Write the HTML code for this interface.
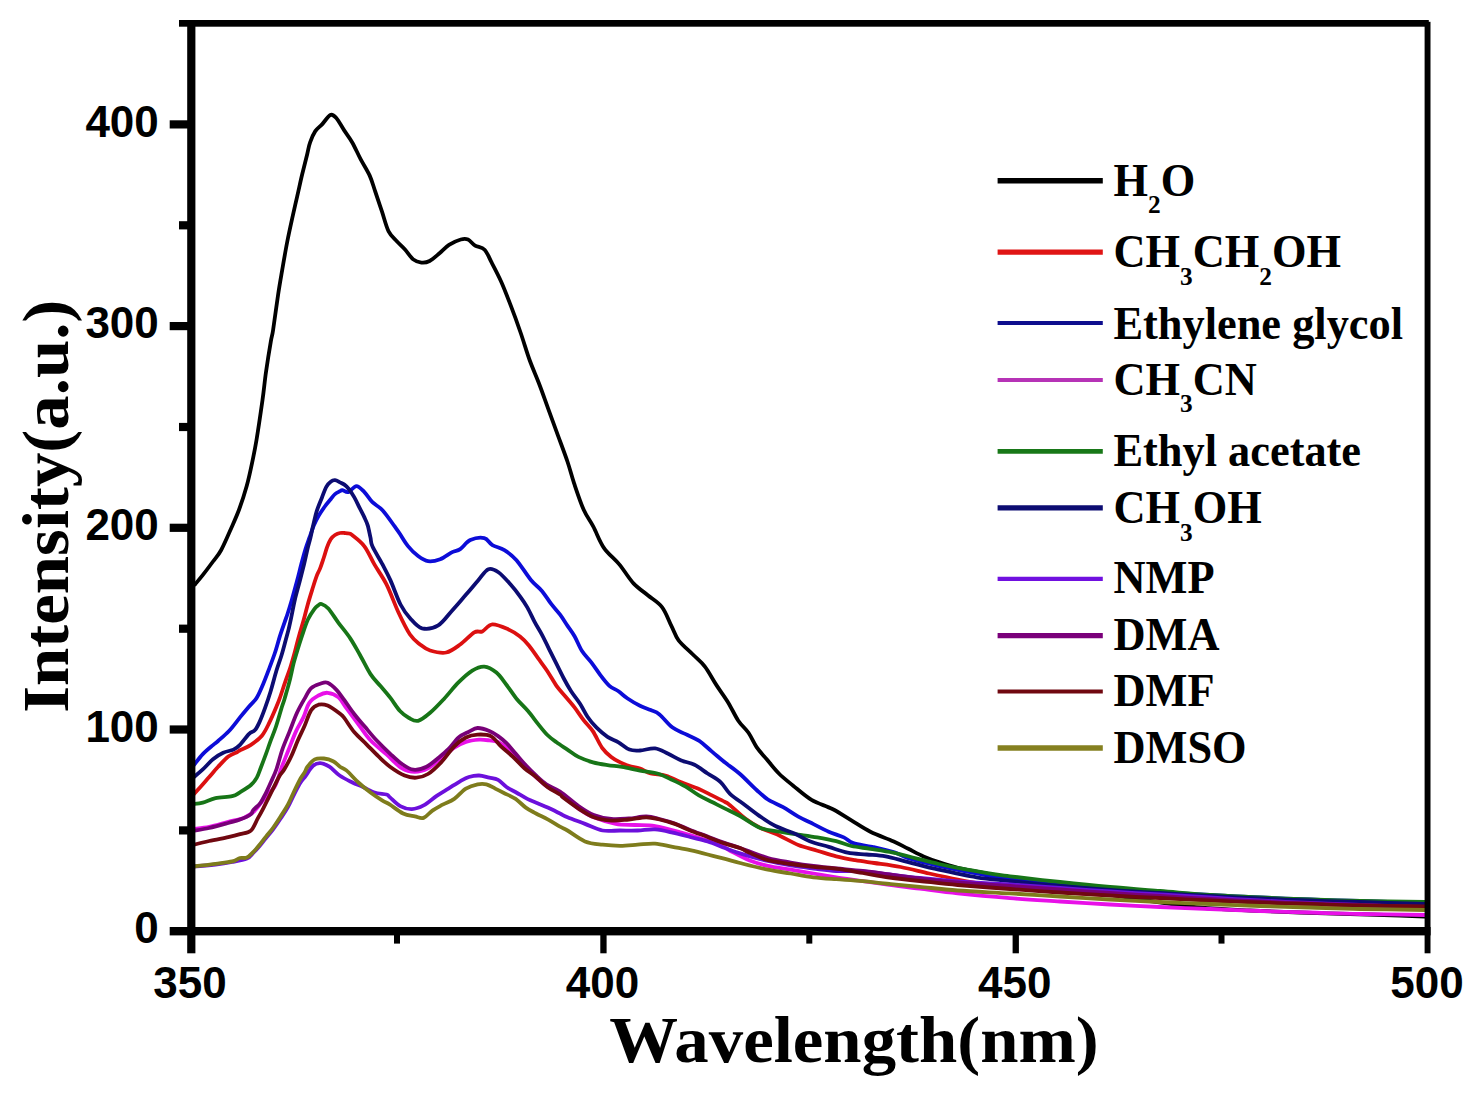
<!DOCTYPE html>
<html><head><meta charset="utf-8">
<style>
html,body{margin:0;padding:0;background:#fff;width:1476px;height:1096px;overflow:hidden}
svg{display:block}
.tl{font-family:"Liberation Sans",sans-serif;font-weight:bold;font-size:44px;fill:#000}
.ti{font-family:"Liberation Serif",serif;font-weight:bold;font-size:66px;fill:#000}
.lg{font-family:"Liberation Serif",serif;font-weight:bold;font-size:45.5px;fill:#000}
.sb{font-size:26px}
</style></head>
<body>
<svg width="1476" height="1096" viewBox="0 0 1476 1096">
<rect width="1476" height="1096" fill="#fff"/>
<!-- CURVES -->
<g id="curves" fill="none" stroke-width="3.8" stroke-linejoin="round" stroke-linecap="round">
<path stroke="#000000" d="M195.0,584.5 C196.3,582.9 200.1,578.4 203.1,574.6 C206.1,570.8 210.0,565.6 213.0,561.5 C216.0,557.4 218.2,555.5 221.2,550.0 C224.2,544.5 228.0,535.5 231.0,528.7 C234.0,521.9 236.7,516.1 239.3,509.0 C241.9,501.9 244.5,493.9 246.7,486.0 C248.9,478.1 250.8,469.0 252.4,461.3 C254.0,453.6 254.8,450.2 256.5,440.0 C258.2,429.8 260.9,411.3 262.5,400.0 C264.1,388.7 264.6,381.7 266.0,372.0 C267.4,362.3 269.6,348.6 270.8,341.6 C272.0,334.6 271.9,337.8 273.1,330.0 C274.3,322.2 276.6,304.6 278.1,294.7 C279.6,284.8 280.6,279.3 282.1,270.6 C283.6,261.9 285.4,251.2 287.1,242.5 C288.8,233.8 290.5,226.1 292.2,218.4 C293.9,210.7 295.5,203.7 297.2,196.3 C298.9,189.0 300.5,181.3 302.2,174.3 C303.9,167.3 305.9,159.6 307.2,154.2 C308.5,148.8 308.8,145.9 310.2,142.1 C311.6,138.2 313.3,134.1 315.3,131.1 C317.3,128.1 319.8,126.8 322.3,124.1 C324.8,121.4 328.0,116.0 330.3,115.0 C332.6,114.0 334.0,115.4 336.3,118.0 C338.6,120.6 341.5,126.3 344.2,130.4 C346.9,134.5 349.7,137.9 352.4,142.7 C355.1,147.5 357.7,153.6 360.6,159.1 C363.5,164.6 367.2,170.1 369.7,175.6 C372.2,181.1 373.3,186.0 375.4,192.0 C377.4,198.0 379.8,205.1 382.0,211.7 C384.2,218.3 386.1,226.5 388.6,231.4 C391.1,236.3 394.1,238.3 396.8,241.3 C399.5,244.3 402.3,246.5 405.0,249.5 C407.7,252.5 410.5,257.2 413.2,259.4 C415.9,261.6 418.7,262.3 421.4,262.6 C424.1,262.9 426.6,262.6 429.6,261.0 C432.6,259.4 436.3,255.9 439.5,253.2 C442.7,250.5 445.4,247.2 449.0,244.9 C452.6,242.6 457.6,240.4 460.8,239.5 C464.0,238.6 465.6,238.5 468.0,239.5 C470.4,240.5 472.3,243.9 475.1,245.6 C477.9,247.3 481.8,246.8 484.6,249.7 C487.4,252.5 488.9,257.4 491.7,262.7 C494.5,268.0 498.0,274.6 501.2,281.7 C504.4,288.8 507.5,297.1 510.7,305.4 C513.9,313.7 517.1,322.4 520.2,331.5 C523.4,340.6 526.5,351.3 529.6,360.0 C532.8,368.7 535.9,375.4 539.1,383.7 C542.3,392.0 545.4,401.1 548.6,409.8 C551.8,418.5 554.9,427.2 558.1,435.9 C561.3,444.6 564.9,454.0 567.6,462.0 C570.3,470.0 571.5,475.7 574.2,483.7 C576.9,491.7 580.5,502.7 583.7,509.8 C586.9,516.9 589.8,520.1 593.2,526.4 C596.6,532.7 599.5,541.5 603.9,547.8 C608.2,554.1 614.4,558.5 619.3,564.4 C624.2,570.3 628.8,578.3 633.5,583.4 C638.2,588.5 643.0,591.2 647.8,595.2 C652.5,599.2 658.0,602.0 662.0,607.1 C666.0,612.2 668.7,620.6 671.5,626.1 C674.3,631.6 675.0,635.6 678.6,640.3 C682.2,645.0 688.5,650.1 692.9,654.5 C697.2,658.9 700.8,661.2 704.7,666.4 C708.7,671.5 712.7,679.4 716.6,685.4 C720.5,691.4 724.5,696.5 728.1,702.4 C731.7,708.3 734.9,715.6 738.3,720.7 C741.7,725.8 745.5,728.4 748.5,732.8 C751.5,737.2 753.6,742.7 756.6,747.1 C759.6,751.5 763.0,754.9 766.7,759.3 C770.4,763.7 774.5,769.1 778.9,773.5 C783.3,777.9 787.8,781.3 793.2,785.7 C798.6,790.1 805.0,796.0 811.5,799.9 C818.0,803.8 825.8,805.6 832.4,809.0 C839.0,812.4 845.1,816.6 851.4,820.4 C857.7,824.2 863.4,828.2 870.4,831.7 C877.4,835.2 886.9,838.4 893.2,841.2 C899.5,844.1 903.2,846.3 908.3,848.8 C913.3,851.3 918.4,854.2 923.5,856.4 C928.6,858.6 933.0,860.2 938.7,862.1 C944.4,864.0 951.4,866.2 957.7,867.8 C964.0,869.4 970.3,870.3 976.6,871.6 C982.9,872.9 990.0,874.4 995.6,875.4 C1001.2,876.4 1000.9,876.1 1010.0,877.5 C1019.1,878.9 1035.0,881.4 1050.0,884.0 C1065.0,886.6 1083.3,890.2 1100.0,893.0 C1116.7,895.8 1133.3,898.6 1150.0,901.0 C1166.7,903.4 1183.3,905.9 1200.0,907.5 C1216.7,909.1 1233.3,909.7 1250.0,910.5 C1266.7,911.3 1283.3,911.9 1300.0,912.5 C1316.7,913.1 1333.3,913.5 1350.0,914.0 C1366.7,914.5 1387.5,915.1 1400.0,915.5 C1412.5,915.9 1420.8,916.3 1425.0,916.5"/>
<path stroke="#dc1010" d="M193.0,795.0 C194.2,793.7 197.5,790.3 200.2,787.3 C202.9,784.3 206.2,780.4 209.2,777.0 C212.2,773.6 214.9,770.2 218.1,766.8 C221.3,763.4 225.1,759.1 228.3,756.6 C231.5,754.1 235.4,753.0 237.3,752.0 C239.2,751.0 237.7,751.5 240.0,750.3 C242.3,749.1 247.2,747.2 250.9,744.8 C254.6,742.4 258.8,739.4 261.9,735.7 C264.9,732.1 266.8,727.8 269.2,722.9 C271.6,718.0 274.8,710.5 276.5,706.5 C278.2,702.5 278.1,702.9 279.6,698.7 C281.1,694.5 283.6,686.6 285.4,681.4 C287.2,676.2 288.8,672.1 290.3,667.5 C291.8,662.9 292.9,658.8 294.4,653.5 C295.8,648.2 297.4,641.7 299.0,636.0 C300.6,630.3 302.3,624.9 303.8,619.5 C305.3,614.1 306.4,609.2 307.9,603.9 C309.4,598.6 311.4,592.3 312.9,587.5 C314.4,582.7 315.8,578.4 317.0,575.2 C318.2,572.1 318.8,571.6 320.0,568.6 C321.2,565.6 322.8,560.5 324.0,557.0 C325.2,553.5 325.9,550.4 327.0,547.4 C328.1,544.4 329.4,541.4 330.7,539.3 C332.0,537.2 333.4,536.0 335.0,535.0 C336.6,534.0 338.4,533.3 340.0,533.0 C341.6,532.7 343.0,532.9 344.5,533.0 C346.0,533.1 347.7,533.1 349.0,533.5 C350.3,533.9 349.8,533.2 352.4,535.3 C355.0,537.4 360.7,541.4 364.4,546.3 C368.1,551.1 370.7,558.0 374.4,564.4 C378.1,570.8 382.5,576.4 386.5,584.4 C390.5,592.4 394.6,604.1 398.5,612.5 C402.4,620.9 406.4,629.2 410.0,634.5 C413.6,639.8 416.8,641.8 420.1,644.5 C423.5,647.2 425.8,649.2 430.1,650.5 C434.5,651.8 441.2,653.5 446.2,652.5 C451.2,651.5 455.5,647.9 460.2,644.5 C464.9,641.1 470.6,634.6 474.3,632.4 C478.0,630.2 479.3,632.7 482.3,631.4 C485.3,630.1 488.0,624.7 492.4,624.4 C496.8,624.1 503.8,627.4 508.4,629.4 C513.0,631.4 516.5,633.8 520.0,636.5 C523.5,639.2 526.1,642.1 529.1,645.7 C532.1,649.4 535.2,654.1 538.2,658.4 C541.2,662.6 544.4,666.6 547.4,671.2 C550.4,675.8 553.5,681.5 556.5,685.8 C559.5,690.0 562.6,693.1 565.6,696.7 C568.6,700.4 571.7,703.8 574.7,707.7 C577.7,711.7 580.8,716.5 583.8,720.4 C586.8,724.3 590.0,726.8 593.0,731.4 C596.0,736.0 599.1,743.5 602.1,747.8 C605.1,752.0 608.2,754.5 611.2,756.9 C614.2,759.3 617.3,760.9 620.3,762.4 C623.3,763.9 626.1,765.0 629.4,766.0 C632.7,767.0 636.5,767.2 640.0,768.5 C643.5,769.8 646.4,772.3 650.7,773.5 C655.0,774.7 660.9,774.2 666.0,775.7 C671.1,777.2 675.8,780.1 681.3,782.3 C686.8,784.5 693.8,786.7 698.9,788.9 C704.0,791.1 707.6,793.2 712.0,795.4 C716.4,797.6 722.1,800.4 725.1,802.0 C728.1,803.6 726.6,802.5 730.0,805.2 C733.4,808.0 740.1,814.7 745.2,818.5 C750.3,822.3 754.7,825.1 760.4,827.9 C766.1,830.7 773.0,832.6 779.3,835.5 C785.6,838.4 792.0,842.5 798.3,845.0 C804.6,847.5 811.0,848.8 817.3,850.7 C823.6,852.6 829.9,854.8 836.2,856.4 C842.5,858.0 848.9,859.1 855.2,860.2 C861.5,861.3 866.6,861.9 874.2,863.0 C881.8,864.1 891.5,865.2 900.7,867.0 C909.9,868.8 919.7,871.4 929.2,873.5 C938.7,875.6 948.2,877.7 957.7,879.5 C967.2,881.3 977.4,883.2 986.1,884.5 C994.8,885.8 997.7,886.2 1010.0,887.5 C1022.3,888.8 1043.3,890.8 1060.0,892.0 C1076.7,893.2 1093.3,894.1 1110.0,895.0 C1126.7,895.9 1143.3,896.7 1160.0,897.5 C1176.7,898.3 1193.3,899.2 1210.0,900.0 C1226.7,900.8 1243.3,901.3 1260.0,902.0 C1276.7,902.7 1293.3,903.4 1310.0,904.0 C1326.7,904.6 1340.8,905.0 1360.0,905.5 C1379.2,906.0 1414.2,906.8 1425.0,907.0"/>
<path stroke="#0c0cd8" d="M194.0,765.0 C195.5,763.2 199.6,757.4 202.8,754.1 C206.0,750.8 210.4,747.3 213.0,745.1 C215.6,742.9 215.4,743.4 218.1,741.0 C220.8,738.6 225.3,734.9 229.0,731.0 C232.7,727.1 236.7,721.5 240.0,717.4 C243.3,713.3 246.3,709.8 249.1,706.5 C251.9,703.2 254.3,701.7 256.6,697.9 C259.0,694.1 261.1,688.7 263.2,683.9 C265.3,679.1 267.1,674.2 269.0,669.1 C270.9,664.0 272.9,658.8 274.7,653.5 C276.5,648.2 278.0,642.3 279.6,637.1 C281.2,631.9 283.3,626.1 284.6,622.3 C285.9,618.4 286.3,617.7 287.5,614.0 C288.7,610.3 290.2,605.5 291.8,600.0 C293.4,594.5 295.4,586.9 297.0,581.0 C298.6,575.1 299.8,569.8 301.2,564.5 C302.6,559.2 304.1,553.5 305.5,549.0 C306.9,544.5 308.1,541.5 309.5,537.5 C310.9,533.5 312.5,528.6 314.0,525.0 C315.5,521.4 316.7,519.1 318.5,516.0 C320.3,512.9 322.8,509.3 324.8,506.5 C326.8,503.7 329.0,501.3 330.7,499.2 C332.4,497.1 333.4,495.4 335.0,494.1 C336.6,492.8 338.8,491.9 340.0,491.2 C341.2,490.5 340.9,490.0 342.3,490.1 C343.7,490.2 346.0,492.8 348.4,492.1 C350.8,491.4 353.7,486.1 356.4,486.1 C359.1,486.1 361.7,489.4 364.4,492.1 C367.1,494.8 369.4,499.2 372.4,502.2 C375.4,505.2 378.8,506.2 382.5,510.2 C386.2,514.2 391.6,522.2 394.5,526.2 C397.4,530.2 397.8,530.7 400.0,534.0 C402.2,537.3 405.0,542.4 408.0,546.1 C411.0,549.8 414.8,553.6 418.1,556.1 C421.5,558.6 424.4,560.7 428.1,561.2 C431.8,561.7 436.2,560.7 440.2,559.2 C444.2,557.7 448.9,553.8 452.2,552.1 C455.5,550.4 457.2,551.1 460.2,549.1 C463.2,547.1 466.3,541.9 470.3,540.1 C474.3,538.3 480.6,537.3 484.3,538.1 C488.0,538.9 489.0,543.1 492.4,545.1 C495.8,547.1 500.4,547.6 504.4,550.1 C508.4,552.6 512.1,555.2 516.5,560.2 C520.9,565.2 526.7,574.9 530.9,580.0 C535.1,585.1 538.5,586.9 541.9,590.9 C545.2,594.9 548.0,599.7 551.0,603.7 C554.0,607.7 557.4,611.1 560.1,614.7 C562.8,618.4 565.0,622.0 567.4,625.6 C569.8,629.2 572.3,632.2 574.7,636.5 C577.1,640.8 579.3,646.8 582.0,651.1 C584.7,655.4 588.1,658.2 591.1,662.1 C594.1,666.0 597.2,670.8 600.2,674.8 C603.2,678.8 606.4,683.0 609.4,685.8 C612.4,688.5 615.5,689.2 618.5,691.3 C621.5,693.4 624.0,696.1 627.6,698.5 C631.2,700.9 636.1,703.9 640.0,705.8 C643.9,707.7 647.5,708.7 650.7,710.1 C654.0,711.5 655.9,711.5 659.5,714.4 C663.1,717.3 668.2,724.3 672.6,727.6 C677.0,730.9 681.3,731.9 685.7,734.1 C690.1,736.3 694.5,737.8 698.9,740.7 C703.3,743.6 707.6,748.0 712.0,751.6 C716.4,755.2 720.4,758.9 725.1,762.6 C729.8,766.3 734.8,769.4 740.0,774.0 C745.2,778.6 752.0,785.8 756.6,790.0 C761.2,794.2 763.5,796.6 767.9,799.5 C772.3,802.4 778.0,804.2 783.1,807.1 C788.2,810.0 793.2,813.8 798.3,816.6 C803.4,819.4 808.4,821.6 813.5,824.1 C818.6,826.6 823.7,829.5 828.7,831.7 C833.8,833.9 839.7,835.5 843.8,837.4 C847.9,839.3 848.5,841.5 853.3,843.1 C858.0,844.7 865.3,845.3 872.3,846.9 C879.3,848.5 889.1,850.7 895.1,852.6 C901.1,854.5 901.0,856.1 908.3,858.3 C915.6,860.5 927.3,863.4 938.7,865.9 C950.1,868.4 964.7,871.3 976.6,873.5 C988.5,875.7 996.1,877.3 1010.0,879.2 C1023.9,881.1 1043.3,883.4 1060.0,885.0 C1076.7,886.6 1093.3,887.8 1110.0,889.0 C1126.7,890.2 1143.3,891.0 1160.0,892.0 C1176.7,893.0 1193.3,894.1 1210.0,895.0 C1226.7,895.9 1243.3,896.8 1260.0,897.5 C1276.7,898.2 1293.3,898.9 1310.0,899.5 C1326.7,900.1 1340.8,900.4 1360.0,901.0 C1379.2,901.6 1414.2,902.7 1425.0,903.0"/>
<path stroke="#e810e8" d="M193.0,829.0 C195.7,828.6 203.3,828.1 209.2,826.9 C215.1,825.7 222.6,823.3 228.3,821.8 C234.1,820.3 239.4,819.6 243.7,817.9 C248.0,816.2 250.5,814.7 253.9,811.5 C257.3,808.3 260.6,803.1 264.1,798.8 C267.6,794.5 272.2,791.0 275.1,785.8 C278.0,780.6 279.2,773.7 281.5,767.6 C283.8,761.5 286.4,755.4 288.8,749.3 C291.2,743.2 293.7,736.4 296.1,731.1 C298.5,725.8 301.2,722.1 303.4,717.4 C305.6,712.7 306.8,706.4 309.3,702.8 C311.8,699.1 315.4,697.2 318.5,695.5 C321.6,693.8 324.3,692.5 327.6,692.8 C330.9,693.1 335.4,694.8 338.5,697.4 C341.6,700.0 343.1,703.7 346.4,708.2 C349.7,712.7 354.4,718.9 358.4,724.3 C362.4,729.6 365.8,735.3 370.5,740.3 C375.2,745.3 381.3,749.8 386.5,754.4 C391.7,759.0 397.0,765.3 401.7,768.2 C406.4,771.1 410.4,771.8 414.8,771.8 C419.2,771.8 423.6,770.5 428.0,768.2 C432.4,765.9 436.7,761.4 441.1,758.0 C445.5,754.6 450.2,750.4 454.3,747.7 C458.4,745.0 461.8,743.2 465.9,741.9 C470.0,740.6 475.2,740.0 479.1,739.7 C483.0,739.5 486.1,740.0 489.3,740.4 C492.5,740.8 495.2,740.7 498.1,742.0 C501.0,743.3 503.9,745.5 506.8,748.0 C509.7,750.5 512.4,753.7 515.6,757.0 C518.8,760.3 522.4,764.7 525.8,768.0 C529.2,771.3 532.6,774.0 536.0,777.0 C539.4,780.0 542.3,783.2 546.3,786.0 C550.3,788.8 554.6,790.2 560.0,794.0 C565.4,797.8 572.9,804.7 578.5,808.6 C584.1,812.5 587.6,814.8 593.8,817.3 C600.0,819.8 608.8,822.6 615.7,823.9 C622.6,825.2 628.4,824.6 635.0,825.0 C641.6,825.4 647.4,824.8 655.1,826.1 C662.8,827.4 673.3,830.4 681.3,832.6 C689.3,834.8 696.8,837.1 703.2,839.2 C709.7,841.3 715.5,843.1 720.0,845.0 C724.5,846.9 725.2,848.2 730.0,850.7 C734.8,853.2 742.7,857.7 749.0,860.2 C755.3,862.7 760.9,864.3 767.9,865.9 C774.9,867.5 783.1,868.4 790.7,869.7 C798.3,871.0 805.9,872.2 813.5,873.5 C821.1,874.8 828.0,876.0 836.2,877.3 C844.4,878.6 853.9,879.8 862.8,881.1 C871.7,882.4 879.9,883.6 889.4,884.9 C898.9,886.2 908.3,887.3 919.7,888.7 C931.1,890.1 942.7,891.8 957.7,893.4 C972.8,895.0 993.0,896.8 1010.0,898.1 C1027.0,899.5 1043.3,900.4 1060.0,901.5 C1076.7,902.6 1093.3,903.6 1110.0,904.5 C1126.7,905.4 1143.3,906.2 1160.0,907.0 C1176.7,907.8 1193.3,908.3 1210.0,909.0 C1226.7,909.7 1243.3,910.4 1260.0,911.0 C1276.7,911.6 1293.3,912.0 1310.0,912.5 C1326.7,913.0 1340.8,913.6 1360.0,914.0 C1379.2,914.4 1414.2,914.8 1425.0,915.0"/>
<path stroke="#177517" d="M193.0,804.0 C194.6,803.8 199.1,803.6 202.8,802.6 C206.6,801.6 210.6,799.2 215.5,798.1 C220.4,797.0 228.1,797.2 232.2,796.2 C236.3,795.2 236.9,794.2 240.0,792.3 C243.1,790.4 248.1,787.5 250.9,785.0 C253.7,782.5 255.2,780.4 256.8,777.6 C258.4,774.9 259.0,772.5 260.5,768.5 C262.0,764.5 264.3,758.5 266.0,753.9 C267.7,749.3 268.8,745.7 270.5,741.1 C272.2,736.5 274.2,732.0 276.0,726.5 C277.8,721.0 280.1,712.8 281.5,708.2 C282.9,703.6 283.3,703.2 284.6,698.7 C285.9,694.2 288.0,687.3 289.5,681.4 C291.0,675.5 292.3,668.6 293.6,663.4 C294.9,658.2 296.1,654.6 297.5,650.0 C298.9,645.4 300.3,641.1 302.0,636.0 C303.7,630.9 305.8,624.0 307.9,619.5 C310.0,615.0 312.8,611.1 314.5,608.8 C316.2,606.5 316.8,606.3 318.0,605.5 C319.2,604.7 319.8,603.5 321.5,604.0 C323.2,604.5 325.5,605.4 328.3,608.5 C331.1,611.6 334.6,617.6 338.3,622.6 C342.0,627.6 346.8,633.2 350.4,638.6 C354.0,644.0 356.6,649.1 360.0,655.0 C363.4,660.9 367.1,668.9 370.5,674.1 C373.9,679.3 377.1,682.1 380.5,686.1 C383.9,690.1 387.4,694.1 390.6,698.2 C393.9,702.4 396.9,707.7 400.0,711.0 C403.1,714.3 406.0,716.4 409.0,718.0 C412.0,719.6 414.6,721.7 418.1,720.8 C421.6,719.9 425.8,716.5 430.1,712.8 C434.5,709.1 439.5,703.7 444.2,698.7 C448.9,693.7 453.5,687.4 458.2,682.7 C462.9,678.0 467.9,673.3 472.3,670.6 C476.7,667.9 480.3,666.3 484.3,666.6 C488.3,666.9 492.7,669.6 496.4,672.6 C500.1,675.6 503.0,680.4 506.4,684.7 C509.8,689.1 512.9,694.3 516.5,698.7 C520.1,703.1 524.4,706.8 528.0,711.0 C531.6,715.2 535.0,720.1 538.2,724.1 C541.4,728.1 544.4,732.0 547.4,735.0 C550.4,738.0 553.2,739.9 556.5,742.3 C559.8,744.7 563.8,747.2 567.4,749.6 C571.0,752.0 574.1,754.8 578.4,756.9 C582.7,759.0 588.1,761.0 593.0,762.4 C597.9,763.8 602.6,764.4 607.5,765.1 C612.4,765.9 616.7,766.0 622.1,766.9 C627.5,767.8 634.1,769.5 640.0,770.6 C645.9,771.7 651.9,771.9 657.3,773.5 C662.7,775.1 667.9,777.9 672.6,780.1 C677.3,782.3 681.3,784.2 685.7,786.7 C690.1,789.2 694.5,792.9 698.9,795.4 C703.3,797.9 707.6,799.8 712.0,802.0 C716.4,804.2 720.4,806.3 725.1,808.6 C729.8,810.9 734.1,812.8 740.0,816.0 C745.9,819.2 753.9,825.3 760.4,827.9 C766.9,830.5 773.0,830.6 779.3,831.7 C785.6,832.8 792.0,833.7 798.3,834.6 C804.6,835.5 811.0,836.3 817.3,837.4 C823.6,838.5 830.5,839.8 836.2,841.2 C841.9,842.6 845.7,844.7 851.4,846.0 C857.1,847.3 863.4,847.7 870.4,848.8 C877.4,849.9 885.6,851.0 893.2,852.6 C900.8,854.2 908.3,856.4 915.9,858.3 C923.5,860.2 930.2,862.1 938.7,864.0 C947.2,865.9 957.6,868.0 967.1,869.7 C976.6,871.4 988.5,873.3 995.6,874.4 C1002.8,875.5 999.3,875.0 1010.0,876.3 C1020.7,877.6 1043.3,880.2 1060.0,882.0 C1076.7,883.8 1093.3,885.5 1110.0,887.0 C1126.7,888.5 1143.3,889.7 1160.0,891.0 C1176.7,892.3 1193.3,893.9 1210.0,895.0 C1226.7,896.1 1243.3,896.8 1260.0,897.5 C1276.7,898.2 1293.3,898.9 1310.0,899.5 C1326.7,900.1 1340.8,900.6 1360.0,901.0 C1379.2,901.4 1414.2,901.8 1425.0,902.0"/>
<path stroke="#0c0c72" d="M194.0,777.0 C195.5,775.7 199.6,772.4 202.8,769.4 C206.0,766.4 209.6,762.0 213.0,759.2 C216.4,756.4 219.8,754.4 223.2,752.8 C226.6,751.2 230.6,750.9 233.4,749.6 C236.2,748.3 237.4,747.4 240.0,744.8 C242.6,742.2 246.6,736.3 249.1,733.9 C251.6,731.5 253.2,732.1 255.0,730.1 C256.8,728.1 257.9,725.5 259.6,721.9 C261.3,718.2 263.2,713.2 265.0,708.2 C266.8,703.2 268.6,698.0 270.5,691.8 C272.4,685.6 274.6,676.8 276.4,670.8 C278.2,664.8 279.8,660.9 281.3,656.0 C282.8,651.1 284.2,645.7 285.4,641.2 C286.6,636.7 287.8,632.7 288.7,628.9 C289.6,625.1 290.1,623.0 291.1,618.2 C292.1,613.4 293.4,606.2 294.8,600.0 C296.2,593.8 298.3,586.9 299.8,581.0 C301.3,575.1 302.7,569.8 304.0,564.5 C305.3,559.2 306.4,553.5 307.5,549.0 C308.6,544.5 309.5,541.7 310.5,537.5 C311.5,533.3 312.4,528.4 313.5,524.0 C314.6,519.6 315.4,515.3 316.8,510.9 C318.2,506.5 320.3,501.7 321.9,497.7 C323.5,493.7 324.8,489.5 326.3,486.8 C327.8,484.1 329.2,482.8 330.7,481.7 C332.1,480.6 333.4,480.1 335.0,480.2 C336.6,480.3 338.4,481.6 340.0,482.4 C341.6,483.2 343.2,483.8 344.7,484.9 C346.2,486.0 347.2,487.0 348.8,489.0 C350.4,491.0 352.4,494.0 354.2,497.1 C356.0,500.2 357.9,504.5 359.6,507.9 C361.3,511.3 363.0,514.4 364.4,517.4 C365.8,520.4 366.8,522.2 367.8,525.6 C368.8,529.0 369.7,534.2 370.5,537.7 C371.3,541.2 370.4,541.8 372.4,546.3 C374.4,550.8 379.5,558.7 382.5,564.4 C385.5,570.1 387.5,573.7 390.5,580.4 C393.5,587.1 397.2,598.1 400.5,604.5 C403.8,610.9 406.7,614.5 410.3,618.5 C413.9,622.5 417.5,627.2 422.1,628.4 C426.8,629.5 433.2,628.4 438.2,625.4 C443.2,622.4 447.5,615.6 452.2,610.4 C456.9,605.2 461.9,599.3 466.3,594.3 C470.7,589.3 474.6,584.4 478.3,580.2 C482.0,576.0 485.0,570.5 488.4,569.2 C491.8,567.9 494.7,569.7 498.4,572.2 C502.1,574.7 506.8,580.3 510.4,584.3 C514.0,588.3 517.2,592.5 520.0,596.4 C522.8,600.2 524.9,603.1 527.3,607.4 C529.7,611.6 532.2,617.3 534.6,621.9 C537.0,626.5 539.5,630.1 541.9,634.7 C544.3,639.3 546.8,644.4 549.2,649.3 C551.6,654.2 554.1,659.0 556.5,663.9 C558.9,668.8 561.4,673.9 563.8,678.5 C566.2,683.1 568.4,687.0 571.1,691.3 C573.8,695.5 577.5,699.8 580.2,704.0 C582.9,708.2 584.8,712.8 587.5,716.8 C590.2,720.8 593.3,724.4 596.6,727.7 C599.9,731.0 603.9,734.4 607.5,736.8 C611.1,739.2 614.9,740.2 618.5,742.3 C622.1,744.4 625.8,748.2 629.4,749.6 C633.0,751.0 635.7,750.7 640.0,750.5 C644.3,750.3 650.4,747.9 655.1,748.4 C659.8,748.9 663.8,751.8 668.2,753.8 C672.6,755.8 676.9,758.6 681.3,760.4 C685.7,762.2 690.1,762.6 694.5,764.8 C698.9,767.0 703.2,770.6 707.6,773.5 C712.0,776.4 717.1,778.9 720.8,782.3 C724.5,785.7 725.9,790.0 730.0,793.8 C734.1,797.6 740.1,801.4 745.2,805.2 C750.3,809.0 755.4,813.1 760.4,816.6 C765.4,820.1 769.8,823.2 775.5,826.0 C781.2,828.8 788.8,831.1 794.5,833.6 C800.2,836.1 804.0,839.0 809.7,841.2 C815.4,843.4 822.4,845.0 828.7,846.9 C835.0,848.8 841.3,851.3 847.6,852.6 C853.9,853.9 860.3,853.9 866.6,854.5 C872.9,855.1 878.7,855.1 885.6,856.4 C892.5,857.7 899.4,859.9 908.3,862.1 C917.1,864.3 927.3,867.2 938.7,869.7 C950.1,872.2 964.7,875.4 976.6,877.3 C988.5,879.2 996.1,879.6 1010.0,881.1 C1023.9,882.6 1043.3,884.5 1060.0,886.0 C1076.7,887.5 1093.3,888.8 1110.0,890.0 C1126.7,891.2 1143.3,892.0 1160.0,893.0 C1176.7,894.0 1193.3,895.1 1210.0,896.0 C1226.7,896.9 1243.3,897.8 1260.0,898.5 C1276.7,899.2 1293.3,899.9 1310.0,900.5 C1326.7,901.1 1340.8,901.4 1360.0,902.0 C1379.2,902.6 1414.2,903.7 1425.0,904.0"/>
<path stroke="#6c10dc" d="M193.0,866.5 C196.8,866.2 209.0,865.2 215.5,864.5 C222.0,863.8 227.0,863.0 232.2,862.0 C237.4,861.0 243.4,860.0 246.9,858.5 C250.4,857.0 251.1,855.1 253.2,853.0 C255.3,850.9 257.5,848.5 259.6,846.0 C261.7,843.5 263.7,840.8 266.0,838.0 C268.3,835.2 270.9,832.2 273.3,829.0 C275.7,825.8 278.2,822.2 280.6,818.5 C283.0,814.8 285.6,811.1 287.9,807.0 C290.2,802.9 292.2,798.0 294.3,794.0 C296.4,790.0 298.3,786.0 300.2,783.0 C302.1,780.0 303.6,778.7 305.7,775.8 C307.8,772.9 310.6,767.9 313.0,765.8 C315.4,763.7 317.6,763.0 320.3,763.1 C323.0,763.2 326.1,764.6 329.4,766.7 C332.7,768.8 336.2,773.2 340.0,775.8 C343.8,778.4 348.6,780.6 352.4,782.5 C356.2,784.4 359.3,785.3 363.0,787.0 C366.7,788.7 370.6,791.2 374.5,792.5 C378.4,793.8 383.9,793.7 386.5,794.5 C389.1,795.3 387.7,795.4 390.0,797.4 C392.3,799.4 396.6,804.2 400.2,806.2 C403.8,808.2 408.0,809.2 411.9,809.1 C415.8,809.0 419.5,807.6 423.6,805.4 C427.7,803.2 432.6,798.7 436.7,795.9 C440.8,793.1 444.5,791.0 448.4,788.6 C452.3,786.2 456.7,783.2 460.1,781.3 C463.5,779.4 465.7,778.0 468.9,777.0 C472.1,776.0 475.7,775.4 479.1,775.5 C482.5,775.6 486.1,777.0 489.3,777.7 C492.5,778.4 495.2,778.3 498.1,779.9 C501.0,781.5 503.6,785.0 506.8,787.2 C510.0,789.4 513.7,791.0 517.1,793.0 C520.5,795.0 523.9,797.2 527.3,798.9 C530.7,800.6 534.1,801.8 537.5,803.2 C540.9,804.7 544.0,805.9 547.7,807.6 C551.5,809.3 556.7,811.9 560.0,813.5 C563.3,815.1 563.3,815.6 567.5,817.3 C571.7,819.0 579.2,821.7 585.0,823.9 C590.8,826.1 596.6,829.4 602.5,830.5 C608.4,831.6 614.2,830.5 620.1,830.5 C626.0,830.5 631.8,830.7 637.6,830.5 C643.4,830.3 649.3,829.0 655.1,829.4 C660.9,829.8 666.8,831.3 672.6,832.6 C678.4,833.9 684.3,835.5 690.1,837.0 C695.9,838.5 701.8,839.6 707.6,841.4 C713.4,843.2 719.7,846.0 725.1,848.0 C730.5,850.0 732.9,851.2 740.0,853.4 C747.1,855.6 759.4,859.0 767.9,861.0 C776.4,863.0 783.1,864.2 790.7,865.5 C798.3,866.8 805.9,867.6 813.5,868.5 C821.1,869.4 828.0,870.5 836.2,871.0 C844.4,871.5 853.9,870.9 862.8,871.5 C871.7,872.1 879.9,873.4 889.4,874.5 C898.9,875.6 908.3,876.8 919.7,878.0 C931.1,879.2 942.7,880.4 957.7,881.5 C972.8,882.6 993.0,883.4 1010.0,884.5 C1027.0,885.6 1043.3,886.8 1060.0,888.0 C1076.7,889.2 1093.3,890.4 1110.0,891.5 C1126.7,892.6 1143.3,893.5 1160.0,894.5 C1176.7,895.5 1193.3,896.5 1210.0,897.5 C1226.7,898.5 1243.3,899.6 1260.0,900.5 C1276.7,901.4 1293.3,902.2 1310.0,903.0 C1326.7,903.8 1340.8,904.2 1360.0,905.0 C1379.2,905.8 1414.2,907.1 1425.0,907.5"/>
<path stroke="#780078" d="M193.0,831.0 C195.7,830.5 203.3,829.3 209.2,828.0 C215.1,826.7 223.2,824.4 228.3,823.0 C233.4,821.6 236.2,821.1 240.0,819.6 C243.8,818.1 248.7,815.8 250.9,814.2 C253.1,812.6 251.6,812.0 253.2,810.1 C254.8,808.2 258.4,805.7 260.5,802.8 C262.6,799.9 264.2,796.3 266.0,792.8 C267.8,789.3 269.2,786.0 271.0,782.0 C272.8,778.0 274.6,774.5 276.5,769.0 C278.4,763.5 280.2,755.6 282.4,749.3 C284.6,743.0 287.3,737.2 289.7,731.1 C292.1,725.0 294.6,718.1 297.0,712.8 C299.4,707.5 301.9,703.2 304.3,699.1 C306.7,695.0 308.5,690.8 311.2,688.2 C313.9,685.6 317.6,684.6 320.3,683.7 C323.0,682.8 324.9,681.7 327.6,682.8 C330.3,683.9 333.9,687.2 336.7,690.1 C339.5,693.0 341.4,696.2 344.4,700.2 C347.3,704.2 351.0,709.9 354.4,714.2 C357.8,718.6 360.8,721.9 364.5,726.3 C368.2,730.6 372.2,735.8 376.5,740.3 C380.8,744.8 385.8,749.7 390.0,753.6 C394.2,757.5 397.8,761.1 401.7,763.8 C405.6,766.5 409.3,769.2 413.4,769.7 C417.5,770.2 422.4,768.7 426.5,766.7 C430.6,764.8 434.6,760.9 438.2,758.0 C441.8,755.1 445.0,752.6 448.4,749.2 C451.8,745.8 455.2,740.4 458.6,737.5 C462.0,734.6 465.7,733.3 468.9,731.7 C472.1,730.1 474.2,728.1 477.6,728.0 C481.0,727.9 485.9,729.6 489.3,731.0 C492.7,732.4 495.2,734.0 498.1,736.1 C501.0,738.2 503.9,740.5 506.8,743.4 C509.7,746.3 512.4,750.0 515.6,753.6 C518.8,757.2 522.4,761.6 525.8,765.3 C529.2,768.9 532.6,772.3 536.0,775.5 C539.4,778.7 542.3,781.6 546.3,784.3 C550.3,787.0 554.6,788.0 560.0,791.6 C565.4,795.2 572.9,802.1 578.5,806.0 C584.1,809.9 588.3,812.8 593.8,815.0 C599.3,817.2 605.5,818.4 611.3,819.0 C617.1,819.6 623.0,818.9 628.8,818.5 C634.6,818.1 641.2,816.4 646.3,816.5 C651.4,816.6 654.8,817.8 659.5,819.0 C664.2,820.2 669.7,821.7 674.8,823.5 C679.9,825.3 684.6,827.8 690.1,830.0 C695.6,832.2 701.8,834.3 707.6,836.5 C713.4,838.7 719.7,841.1 725.1,843.0 C730.5,844.9 732.9,845.5 740.0,848.0 C747.1,850.5 759.4,855.6 767.9,858.0 C776.4,860.4 783.1,861.2 790.7,862.5 C798.3,863.8 805.9,865.0 813.5,866.0 C821.1,867.0 828.0,867.7 836.2,868.5 C844.4,869.3 853.9,870.0 862.8,871.0 C871.7,872.0 879.9,873.2 889.4,874.5 C898.9,875.8 908.3,877.2 919.7,878.5 C931.1,879.8 942.7,881.2 957.7,882.5 C972.8,883.8 993.0,884.8 1010.0,886.0 C1027.0,887.2 1043.3,888.3 1060.0,889.5 C1076.7,890.7 1093.3,891.9 1110.0,893.0 C1126.7,894.1 1143.3,895.0 1160.0,896.0 C1176.7,897.0 1193.3,898.1 1210.0,899.0 C1226.7,899.9 1243.3,900.8 1260.0,901.5 C1276.7,902.2 1293.3,902.9 1310.0,903.5 C1326.7,904.1 1340.8,904.4 1360.0,905.0 C1379.2,905.6 1414.2,906.7 1425.0,907.0"/>
<path stroke="#700810" d="M193.0,845.0 C195.7,844.3 203.3,842.3 209.2,841.0 C215.1,839.7 223.2,838.2 228.3,837.1 C233.4,836.0 236.2,835.3 240.0,834.2 C243.8,833.1 247.9,833.2 250.9,830.6 C253.9,828.0 255.7,822.1 257.8,818.4 C259.9,814.7 261.5,811.8 263.3,808.3 C265.1,804.8 267.0,801.0 268.8,797.4 C270.6,793.8 272.4,790.0 274.2,786.4 C276.0,782.8 277.8,778.9 279.5,776.0 C281.2,773.1 282.5,772.4 284.5,769.0 C286.5,765.6 289.3,760.5 291.5,755.7 C293.7,750.9 295.8,745.1 297.9,740.2 C300.0,735.3 302.1,731.5 304.3,726.5 C306.5,721.5 308.8,713.7 311.2,710.1 C313.6,706.5 315.8,705.5 318.5,704.7 C321.2,704.0 324.0,704.1 327.6,705.6 C331.2,707.1 337.2,711.7 340.0,713.8 C342.8,715.9 342.0,715.1 344.4,718.2 C346.8,721.3 350.7,727.9 354.4,732.3 C358.1,736.6 362.5,740.3 366.5,744.3 C370.5,748.3 374.6,752.7 378.5,756.4 C382.4,760.1 385.6,763.5 390.0,766.7 C394.4,769.9 400.2,773.7 404.6,775.5 C409.0,777.3 412.4,778.0 416.3,777.7 C420.2,777.5 423.9,776.5 428.0,774.0 C432.1,771.5 436.7,767.0 441.1,762.4 C445.5,757.8 450.2,750.4 454.3,746.3 C458.4,742.1 462.0,739.5 465.9,737.5 C469.8,735.5 473.5,734.8 477.6,734.6 C481.8,734.4 486.9,734.2 490.8,736.1 C494.7,738.0 497.4,742.9 501.0,746.3 C504.6,749.7 508.8,752.9 512.7,756.5 C516.6,760.1 520.5,764.8 524.4,768.2 C528.3,771.6 532.1,773.8 536.0,777.0 C539.9,780.2 543.7,784.3 547.7,787.2 C551.7,790.1 557.4,792.8 560.0,794.5 C562.6,796.2 560.0,795.2 563.1,797.6 C566.2,800.0 573.4,805.3 578.5,808.6 C583.6,811.9 588.3,815.3 593.8,817.3 C599.3,819.3 605.5,820.2 611.3,820.6 C617.1,821.0 623.0,820.0 628.8,819.5 C634.6,819.0 641.2,817.3 646.3,817.3 C651.4,817.3 654.8,818.4 659.5,819.5 C664.2,820.6 669.7,822.1 674.8,823.9 C679.9,825.7 684.6,828.3 690.1,830.5 C695.6,832.7 701.8,834.8 707.6,837.0 C713.4,839.2 719.7,841.8 725.1,843.6 C730.5,845.4 736.0,846.5 740.0,848.0 C744.0,849.5 744.4,850.6 749.0,852.6 C753.6,854.6 760.9,858.3 767.9,860.2 C774.9,862.1 783.1,862.9 790.7,864.0 C798.3,865.1 805.9,866.0 813.5,866.8 C821.1,867.6 828.0,867.7 836.2,868.7 C844.4,869.7 853.9,871.5 862.8,873.0 C871.7,874.5 879.9,876.2 889.4,877.5 C898.9,878.8 908.3,879.8 919.7,881.0 C931.1,882.2 942.7,883.7 957.7,885.0 C972.8,886.3 993.0,887.8 1010.0,889.0 C1027.0,890.2 1043.3,891.4 1060.0,892.5 C1076.7,893.6 1093.3,894.6 1110.0,895.5 C1126.7,896.4 1143.3,897.2 1160.0,898.0 C1176.7,898.8 1193.3,899.8 1210.0,900.5 C1226.7,901.2 1243.3,901.9 1260.0,902.5 C1276.7,903.1 1293.3,903.5 1310.0,904.0 C1326.7,904.5 1340.8,905.1 1360.0,905.5 C1379.2,905.9 1414.2,906.3 1425.0,906.5"/>
<path stroke="#7e7c1c" d="M193.0,866.5 C196.8,866.1 209.0,864.8 215.5,863.9 C222.0,863.0 228.1,862.4 232.2,861.4 C236.3,860.4 237.6,858.6 240.0,858.0 C242.4,857.4 244.7,858.6 246.9,857.6 C249.1,856.6 251.1,854.2 253.2,852.1 C255.3,850.0 257.5,847.4 259.6,844.8 C261.7,842.2 263.7,839.5 266.0,836.6 C268.3,833.7 270.9,830.9 273.3,827.5 C275.7,824.1 278.2,820.3 280.6,816.5 C283.0,812.7 285.6,809.0 287.9,804.7 C290.2,800.5 292.2,795.4 294.3,791.0 C296.4,786.6 298.9,781.4 300.7,778.2 C302.5,775.0 303.9,773.7 305.0,771.8 C306.1,769.9 305.9,768.8 307.5,766.7 C309.1,764.6 312.1,760.8 314.8,759.4 C317.5,758.0 320.8,758.2 323.9,758.5 C326.9,758.8 330.4,759.8 333.1,761.2 C335.8,762.6 337.8,765.2 340.0,766.7 C342.2,768.2 343.3,767.8 346.4,770.4 C349.5,773.0 354.4,778.8 358.4,782.5 C362.4,786.2 366.5,789.5 370.5,792.5 C374.5,795.5 379.2,798.6 382.5,800.6 C385.8,802.6 386.6,802.6 390.0,804.7 C393.4,806.9 399.0,811.5 403.1,813.5 C407.2,815.5 411.4,815.7 414.8,816.4 C418.2,817.1 420.7,818.9 423.6,817.9 C426.5,816.9 429.2,812.8 432.4,810.6 C435.6,808.4 439.0,806.7 442.6,804.7 C446.2,802.8 450.4,801.6 454.3,798.9 C458.2,796.2 462.0,791.0 465.9,788.6 C469.8,786.2 474.2,785.0 477.6,784.3 C481.0,783.6 483.5,783.6 486.4,784.3 C489.3,785.0 492.3,787.1 495.2,788.6 C498.1,790.1 500.5,791.3 503.9,793.0 C507.3,794.7 512.0,796.5 515.6,798.9 C519.2,801.3 522.4,805.2 525.8,807.6 C529.2,810.0 532.4,811.5 536.0,813.5 C539.6,815.5 543.7,817.1 547.7,819.3 C551.7,821.5 556.7,824.7 560.0,826.6 C563.3,828.5 563.3,828.0 567.5,830.5 C571.7,833.0 579.2,839.0 585.0,841.4 C590.8,843.8 596.6,844.0 602.5,844.7 C608.4,845.4 614.2,845.8 620.1,845.8 C626.0,845.8 631.8,845.1 637.6,844.7 C643.4,844.3 649.3,843.2 655.1,843.6 C660.9,844.0 666.8,845.8 672.6,846.9 C678.4,848.0 684.3,848.9 690.1,850.2 C695.9,851.5 701.8,853.0 707.6,854.5 C713.4,856.0 719.7,857.5 725.1,858.9 C730.5,860.3 732.9,861.2 740.0,863.0 C747.1,864.8 759.4,868.0 767.9,869.7 C776.4,871.5 783.1,872.2 790.7,873.5 C798.3,874.8 805.9,876.3 813.5,877.3 C821.1,878.2 828.0,878.6 836.2,879.2 C844.4,879.8 853.9,880.3 862.8,881.1 C871.7,881.9 879.9,883.0 889.4,883.9 C898.9,884.8 908.3,885.7 919.7,886.8 C931.1,887.9 942.7,889.4 957.7,890.5 C972.8,891.6 993.0,892.4 1010.0,893.4 C1027.0,894.4 1043.3,895.5 1060.0,896.5 C1076.7,897.5 1093.3,898.6 1110.0,899.5 C1126.7,900.4 1143.3,901.2 1160.0,902.0 C1176.7,902.8 1193.3,903.3 1210.0,904.0 C1226.7,904.7 1243.3,905.4 1260.0,906.0 C1276.7,906.6 1293.3,907.0 1310.0,907.5 C1326.7,908.0 1340.8,908.6 1360.0,909.0 C1379.2,909.4 1414.2,909.8 1425.0,910.0"/>
</g>
<!-- AXES -->
<g fill="#000">
<rect x="187.2" y="20" width="8.2" height="933.3"/>
<rect x="169.7" y="927" width="1260.9" height="8.4"/>
<rect x="179" y="20" width="1249.8" height="6.7"/>
<rect x="1424.6" y="21.8" width="5.9" height="931.5"/>
<!-- x ticks major -->
<rect x="600.3" y="930" width="6.3" height="23.3"/>
<rect x="1012.6" y="930" width="6.3" height="23.3"/>
<!-- x ticks minor -->
<rect x="394" y="930" width="6" height="13.6"/>
<rect x="806.3" y="930" width="6" height="13.6"/>
<rect x="1218.5" y="930" width="6" height="13.6"/>
<!-- y ticks major -->
<rect x="169.7" y="120.3" width="22" height="8.2"/>
<rect x="169.7" y="322" width="22" height="8.2"/>
<rect x="169.7" y="523.7" width="22" height="8.2"/>
<rect x="169.7" y="725.4" width="22" height="8.2"/>
<!-- y ticks minor -->
<rect x="179" y="221.2" width="12" height="8.2"/>
<rect x="179" y="422.9" width="12" height="8.2"/>
<rect x="179" y="624.6" width="12" height="8.2"/>
<rect x="179" y="826.3" width="12" height="8.2"/>
</g>
<!-- tick labels -->
<g class="tl" text-anchor="end">
<text x="158.8" y="136.5">400</text>
<text x="158.8" y="338.2">300</text>
<text x="158.8" y="539.9">200</text>
<text x="158.8" y="741.6">100</text>
<text x="158.8" y="943.3">0</text>
</g>
<g class="tl" text-anchor="middle">
<text x="190" y="998">350</text>
<text x="602.5" y="998">400</text>
<text x="1014.8" y="998">450</text>
<text x="1427" y="998">500</text>
</g>
<!-- axis titles -->
<text class="ti" transform="translate(609.3,1062) scale(1.043,1)">Wavelength(nm)</text>
<text class="ti" transform="translate(68.3,712.7) rotate(-90) scale(1.043,1)">Intensity(a.u.)</text>
<!-- legend -->
<g stroke-linecap="butt">
<line x1="997.6" x2="1102.8" y1="180.7" y2="180.7" stroke="#000000" stroke-width="5.4"/>
<line x1="997.6" x2="1102.8" y1="252.2" y2="252.2" stroke="#e01515" stroke-width="5.2"/>
<line x1="997.6" x2="1102.8" y1="322.9" y2="322.9" stroke="#0e0e8e" stroke-width="4.0"/>
<line x1="997.6" x2="1102.8" y1="380.0" y2="380.0" stroke="#b632b6" stroke-width="4.0"/>
<line x1="997.6" x2="1102.8" y1="451.3" y2="451.3" stroke="#187818" stroke-width="4.7"/>
<line x1="997.6" x2="1102.8" y1="507.9" y2="507.9" stroke="#0c0c72" stroke-width="5.1"/>
<line x1="997.6" x2="1102.8" y1="578.9" y2="578.9" stroke="#7010e0" stroke-width="4.2"/>
<line x1="997.6" x2="1102.8" y1="635.6" y2="635.6" stroke="#7a007a" stroke-width="5.1"/>
<line x1="997.6" x2="1102.8" y1="691.6" y2="691.6" stroke="#700810" stroke-width="4.0"/>
<line x1="997.6" x2="1102.8" y1="748.0" y2="748.0" stroke="#858020" stroke-width="5.5"/>
</g>
<g class="lg">
<text transform="translate(1113.5,195.6) scale(0.975,1)">H<tspan class="sb" dy="17.5">2</tspan><tspan dy="-17.5">O</tspan></text>
<text transform="translate(1113.5,267.3) scale(0.975,1)">CH<tspan class="sb" dy="17.5">3</tspan><tspan dy="-17.5">CH</tspan><tspan class="sb" dy="17.5">2</tspan><tspan dy="-17.5">OH</tspan></text>
<text transform="translate(1113.5,339.1) scale(0.975,1)">Ethylene glycol</text>
<text transform="translate(1113.5,394.6) scale(0.975,1)">CH<tspan class="sb" dy="17.5">3</tspan><tspan dy="-17.5">CN</tspan></text>
<text transform="translate(1113.5,465.6) scale(0.975,1)">Ethyl acetate</text>
<text transform="translate(1113.5,523.4) scale(0.975,1)">CH<tspan class="sb" dy="17.5">3</tspan><tspan dy="-17.5">OH</tspan></text>
<text transform="translate(1113.5,593.1) scale(0.975,1)">NMP</text>
<text transform="translate(1113.5,650.4) scale(0.975,1)">DMA</text>
<text transform="translate(1113.5,705.6) scale(0.975,1)">DMF</text>
<text transform="translate(1113.5,762.8) scale(0.975,1)">DMSO</text>
</g>
</svg>
</body></html>
